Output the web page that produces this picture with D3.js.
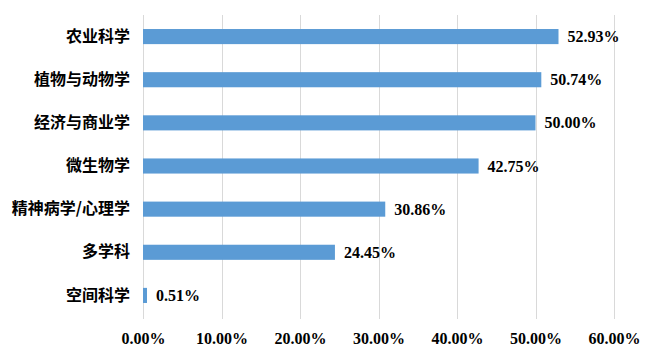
<!DOCTYPE html>
<html>
<head>
<meta charset="utf-8">
<script src="https://cdn.jsdelivr.net/npm/d3@7"></script>
<style>
  body { margin: 0; background: #fff; }
  svg { display: block; }
</style>
</head>
<body>
<svg id="chart"></svg>
<script>
var categories = ['农业科学', '植物与动物学', '经济与商业学', '微生物学', '精神病学/心理学', '多学科', '空间科学'];
var values = [52.93, 50.74, 50.00, 42.75, 30.86, 24.45, 0.51];
var ticks = [0, 10, 20, 30, 40, 50, 60];

var W = 647, H = 358;
var margin = { top: 15, right: 33, bottom: 41, left: 143 };
var w = W - margin.left - margin.right,
    h = H - margin.top - margin.bottom;

var svg = d3.select('#chart').attr('width', W).attr('height', H);
var g = svg.append('g').attr('transform', 'translate(' + margin.left + ',' + margin.top + ')');

var x = d3.scaleLinear().domain([0, 60]).range([0, w]);
var y = d3.scaleBand().domain(categories).range([0, h]).paddingInner(0.65).paddingOuter(0.325);

// gridlines
g.selectAll('line.grid')
  .data(ticks)
  .enter()
  .append('line')
  .attr('class', 'grid')
  .attr('x1', function(d) { return Math.round(x(d)) + 0.5; })
  .attr('x2', function(d) { return Math.round(x(d)) + 0.5; })
  .attr('y1', 0)
  .attr('y2', h + 2)
  .attr('stroke', '#d9d9d9')
  .attr('stroke-width', 1);

// x axis labels
var xAxis = d3.axisBottom(x).tickValues(ticks).tickSize(0).tickPadding(16)
  .tickFormat(function(d) { return d.toFixed(2) + '%'; });
g.append('g')
  .attr('transform', 'translate(0,' + h + ')')
  .call(xAxis)
  .call(function(a) { a.select('.domain').remove(); })
  .selectAll('text')
  .attr('font-family', '"Liberation Serif", "Times New Roman", serif')
  .attr('font-weight', 'bold')
  .attr('font-size', '16px')
  .attr('fill', '#000');

// y axis labels
var yAxis = d3.axisLeft(y).tickSize(0).tickPadding(13);
g.append('g')
  .call(yAxis)
  .call(function(a) { a.select('.domain').remove(); })
  .selectAll('text')
  .attr('font-family', '"Noto Sans CJK SC", sans-serif')
  .attr('font-weight', 'bold')
  .attr('font-size', '16px')
  .attr('fill', '#000');

// bars
g.selectAll('rect.bar')
  .data(values)
  .enter()
  .append('rect')
  .attr('class', 'bar')
  .attr('x', x(0))
  .attr('y', function(d, i) { return y(categories[i]); })
  .attr('width', function(d) { return x(d) - x(0); })
  .attr('height', y.bandwidth())
  .attr('fill', '#5b9bd5');

// value labels
g.selectAll('text.val')
  .data(values)
  .enter()
  .append('text')
  .attr('class', 'val')
  .attr('x', function(d) { return x(d) + 9; })
  .attr('y', function(d, i) { return y(categories[i]) + y.bandwidth() / 2; })
  .attr('dy', '0.35em')
  .attr('font-family', '"Liberation Serif", "Times New Roman", serif')
  .attr('font-weight', 'bold')
  .attr('font-size', '16px')
  .attr('fill', '#000')
  .text(function(d) { return d.toFixed(2) + '%'; });
</script>
</body>
</html>
